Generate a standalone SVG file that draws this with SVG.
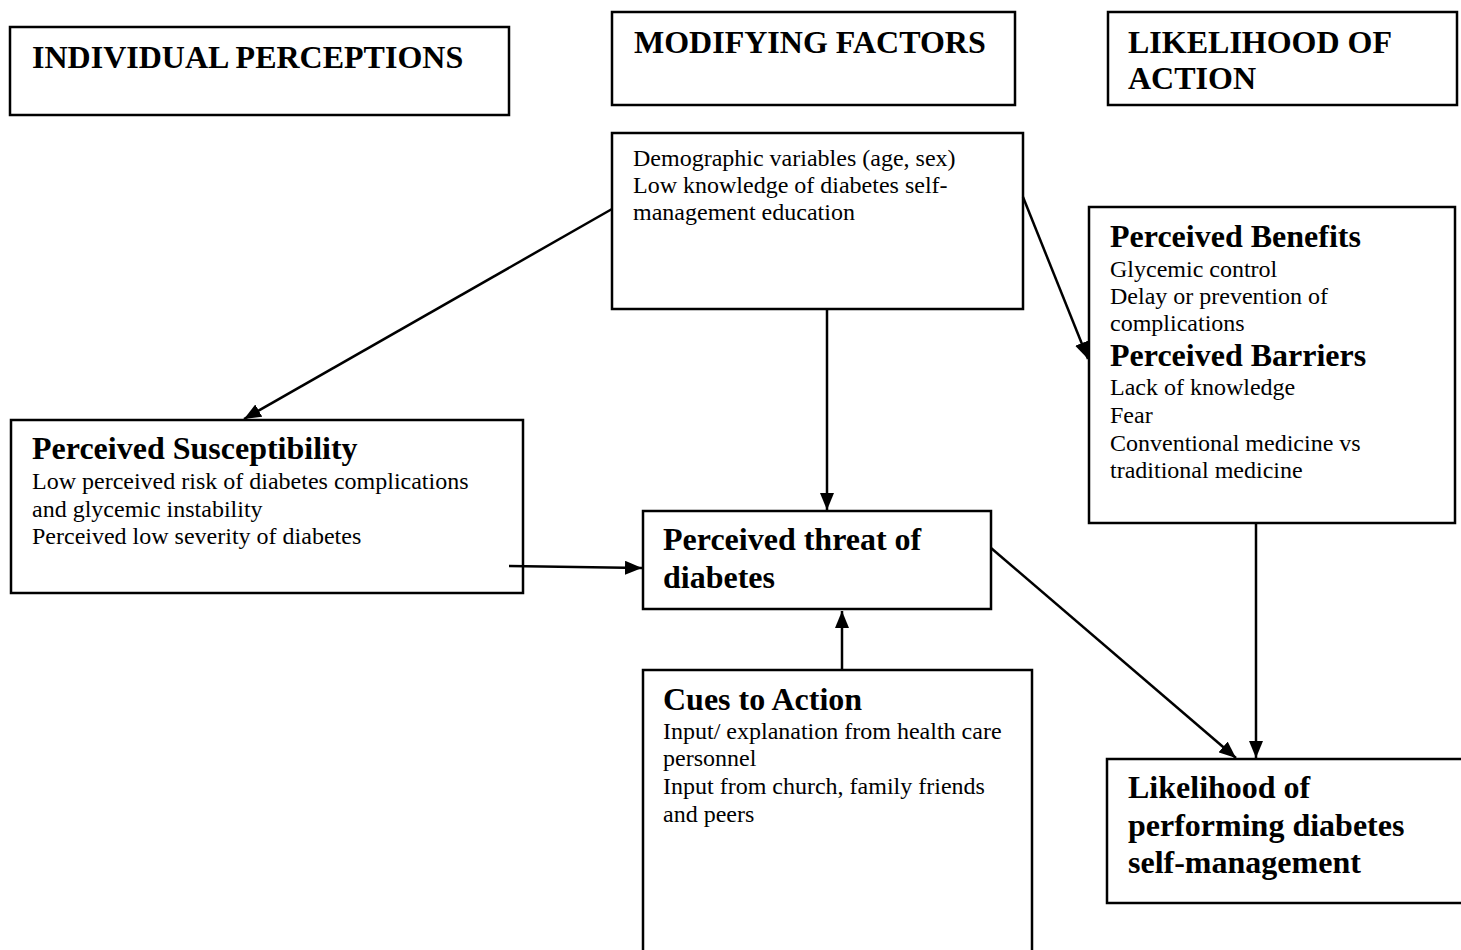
<svg xmlns="http://www.w3.org/2000/svg" width="1461" height="950" viewBox="0 0 1461 950">
<defs>
<marker id="ah" markerWidth="17" markerHeight="14" refX="17" refY="7" orient="auto" markerUnits="userSpaceOnUse">
<path d="M0,0 L17,7 L0,14 z" fill="#000"/>
</marker>
<style>
.box{fill:#fff;stroke:#000;stroke-width:2.5}
.h{font-family:"Liberation Serif","Times New Roman",serif;font-weight:bold;font-size:32px;fill:#000}
.b{font-family:"Liberation Serif","Times New Roman",serif;font-size:24px;fill:#000}
.c{stroke:#000;stroke-width:2.5;fill:none;marker-end:url(#ah)}
</style>
</defs>
<rect width="1461" height="950" fill="#fff"/>
<g id="individual-perceptions">
<rect class="box" x="10" y="27" width="499" height="88"/>
<text class="h" x="32" y="68">INDIVIDUAL PERCEPTIONS</text>
</g>
<g id="modifying-factors">
<rect class="box" x="612" y="12" width="403" height="93"/>
<text class="h" x="634" y="53">MODIFYING FACTORS</text>
</g>
<g id="likelihood-of-action">
<rect class="box" x="1108" y="12" width="349" height="93"/>
<text class="h" x="1128" y="53">LIKELIHOOD OF</text>
<text class="h" x="1128" y="89">ACTION</text>
</g>
<g id="demographic">
<rect class="box" x="612" y="133" width="411" height="176"/>
<text class="b" x="633" y="166">Demographic variables (age, sex)</text>
<text class="b" x="633" y="193">Low knowledge of diabetes self-</text>
<text class="b" x="633" y="220">management education</text>
</g>
<g id="benefits-barriers">
<rect class="box" x="1089" y="207" width="366" height="316"/>
<text class="h" x="1110" y="247">Perceived Benefits</text>
<text class="b" x="1110" y="277">Glycemic control</text>
<text class="b" x="1110" y="304">Delay or prevention of</text>
<text class="b" x="1110" y="331">complications</text>
<text class="h" x="1110" y="366">Perceived Barriers</text>
<text class="b" x="1110" y="395">Lack of knowledge</text>
<text class="b" x="1110" y="423">Fear</text>
<text class="b" x="1110" y="451">Conventional medicine vs</text>
<text class="b" x="1110" y="478">traditional medicine</text>
</g>
<g id="susceptibility">
<rect class="box" x="11" y="420" width="512" height="173"/>
<text class="h" x="32" y="459">Perceived Susceptibility</text>
<text class="b" x="32" y="489">Low perceived risk of diabetes complications</text>
<text class="b" x="32" y="517">and glycemic instability</text>
<text class="b" x="32" y="544">Perceived low severity of diabetes</text>
</g>
<g id="threat">
<rect class="box" x="643" y="511" width="348" height="98"/>
<text class="h" x="663" y="550">Perceived threat of</text>
<text class="h" x="663" y="588">diabetes</text>
</g>
<g id="cues">
<rect class="box" x="643" y="670" width="389" height="290"/>
<text class="h" x="663" y="710">Cues to Action</text>
<text class="b" x="663" y="739">Input/ explanation from health care</text>
<text class="b" x="663" y="766">personnel</text>
<text class="b" x="663" y="794">Input from church, family friends</text>
<text class="b" x="663" y="822">and peers</text>
</g>
<g id="likelihood-performing">
<rect class="box" x="1107" y="759" width="370" height="144"/>
<text class="h" x="1128" y="798">Likelihood of</text>
<text class="h" x="1128" y="836">performing diabetes</text>
<text class="h" x="1128" y="873">self-management</text>
</g>
<g id="connectors">
<line class="c" x1="612" y1="209" x2="244" y2="419"/>
<line class="c" x1="827" y1="309" x2="827" y2="510"/>
<line class="c" x1="1023" y1="197" x2="1088" y2="359"/>
<line class="c" x1="509" y1="566" x2="642" y2="568"/>
<line class="c" x1="842" y1="670" x2="842" y2="611"/>
<line class="c" x1="991" y1="548" x2="1236" y2="758"/>
<line class="c" x1="1256" y1="523" x2="1256" y2="758"/>
</g>
</svg>
